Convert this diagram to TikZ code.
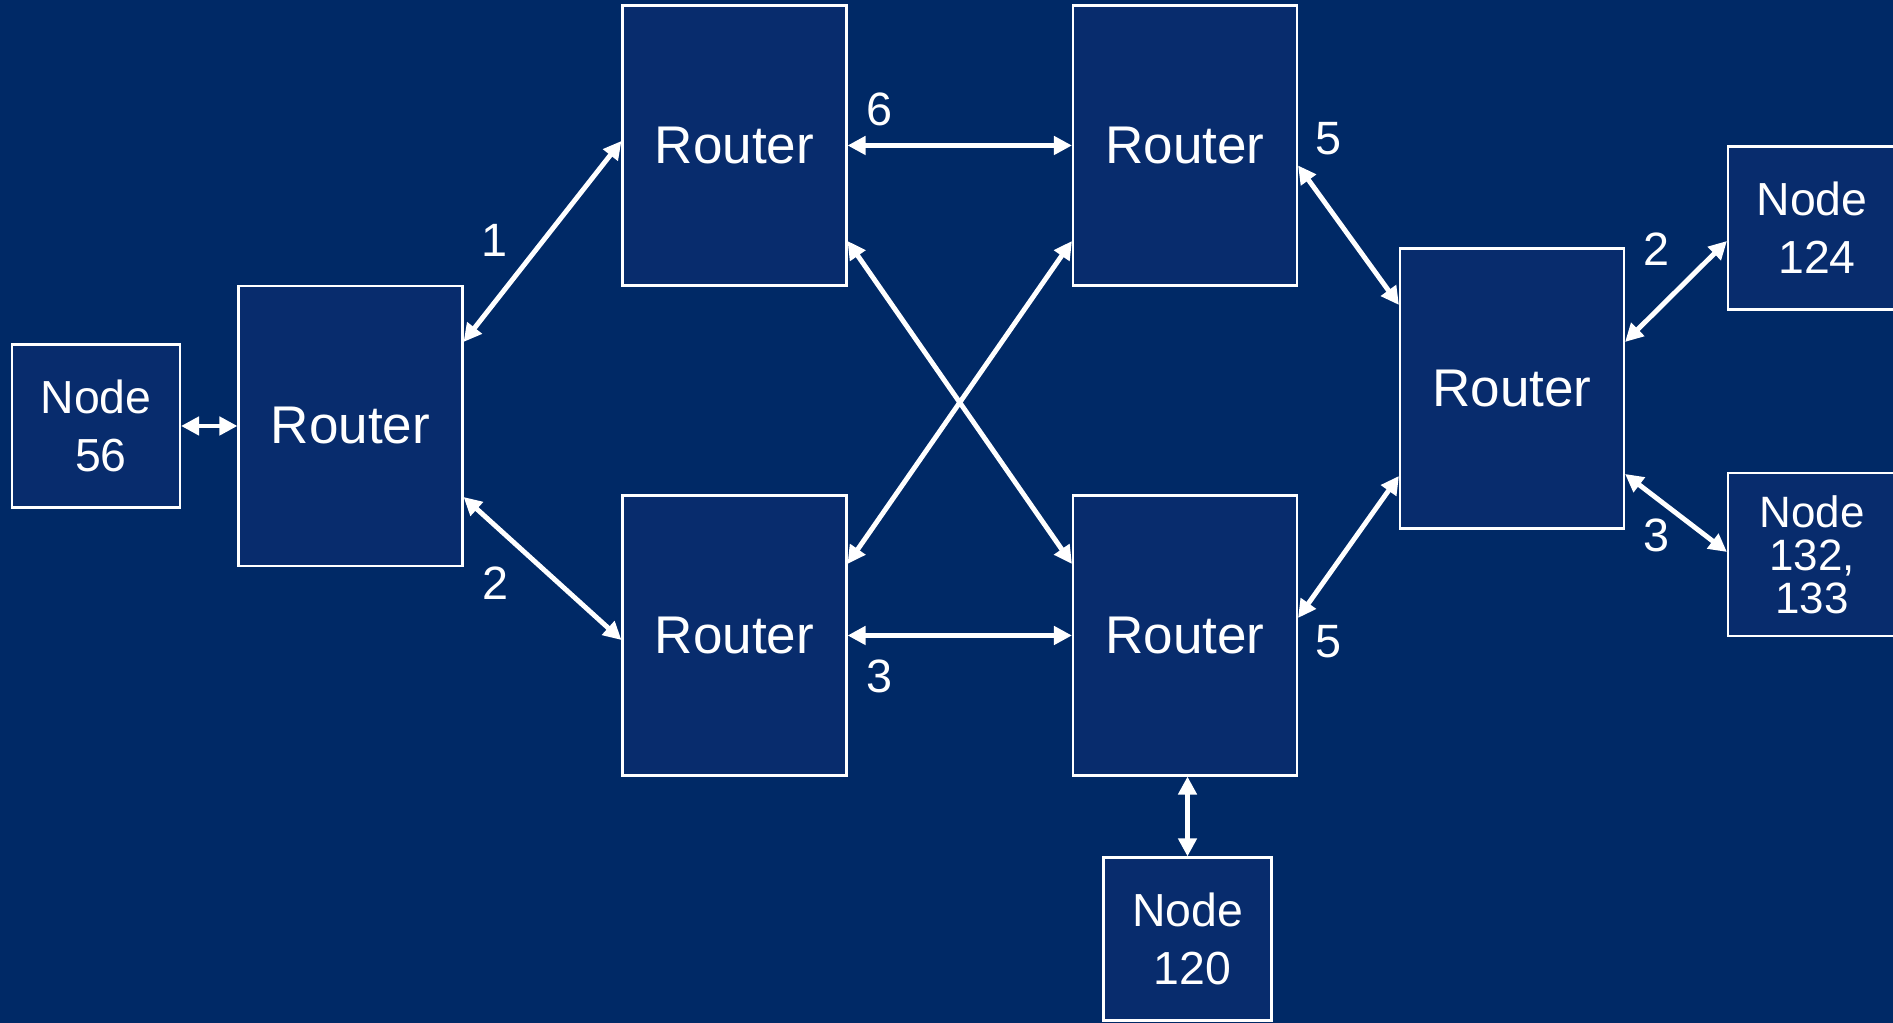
\documentclass[tikz,border=0pt]{standalone}
\usepackage{fontspec}
\setmainfont{Liberation Sans}
\usepackage{xcolor}
\usetikzlibrary{arrows.meta, positioning}
\definecolor{slidebg}{HTML}{002966}
\definecolor{boxbg}{HTML}{082C6D}

\begin{document}
\begin{tikzpicture}[
    router/.style={draw=white, line width=0.6pt, fill=boxbg, text=white, minimum width=2.24cm, minimum height=2.8cm, inner sep=0pt, font=\fontsize{15.1}{18}\selectfont},
    host/.style={draw=white, line width=0.6pt, fill=boxbg, text=white, minimum width=1.68cm, minimum height=1.63cm, inner sep=0pt, align=center, font=\fontsize{13.2}{16.5}\selectfont},
    hop/.style={text=white, inner sep=0pt, font=\fontsize{13.3}{16}\selectfont},
    link/.style={{Triangle[length=0.18cm, width=0.18cm]}-{Triangle[length=0.18cm, width=0.18cm]}, white, line width=1.4pt}
]
    \fill[slidebg] (0,0) rectangle (18.93,10.23);
    \useasboundingbox (0,0) rectangle (18.93,10.23);

    \node[host]   (n56)  at (0.96,5.97)    {Node\\\hspace{0.1cm}56};
    \node[router] (rL)   at (3.505,5.97)   {Router};
    \node[router] (rTL)  at (7.345,8.775)  {Router};
    \node[router] (rBL)  at (7.345,3.875)  {Router};
    \node[router] (rTR)  at (11.85,8.775)  {Router};
    \node[router] (rBR)  at (11.85,3.875)  {Router};
    \node[router] (rR)   at (15.12,6.345)  {Router};
    \node[host]   (n124) at (18.12,7.95)   {Node\\\hspace{0.1cm}124};
    \node[host, font=\fontsize{12.5}{12.2}\selectfont] (n132) at (18.12,4.685) {Node\\132,\\133};
    \node[host]   (n120) at (11.875,0.84)  {Node\\\hspace{0.1cm}120};

    \node[hop] (h1)  at (4.94,7.83)  {1};
    \node[hop] (h2)  at (4.95,4.40)  {2};
    \node[hop] (h6)  at (8.79,9.14)  {6};
    \node[hop] (h3)  at (8.79,3.47)  {3};
    \node[hop] (h5a) at (13.28,8.84) {5};
    \node[hop] (h5b) at (13.28,3.81) {5};
    \node[hop] (h2r) at (16.56,7.74) {2};
    \node[hop] (h3r) at (16.56,4.88) {3};

    \draw[link] (n56.east) -- (rL.west);
    \draw[link] ([yshift=0.84cm]rL.east) -- ([yshift=0.045cm]rTL.west);
    \draw[link] ([yshift=-0.71cm]rL.east) -- ([yshift=-0.045cm]rBL.west);
    \draw[link] (rTL.east) -- (rTR.west);
    \draw[link] (rBL.east) -- (rBR.west);
    \draw[link] ([yshift=-0.955cm]rTL.east) -- ([yshift=0.715cm]rBR.west);
    \draw[link] ([yshift=0.715cm]rBL.east) -- ([yshift=-0.955cm]rTR.west);
    \draw[link] ([yshift=-0.2cm]rTR.east) -- ([yshift=0.835cm]rR.west);
    \draw[link] ([yshift=0.175cm]rBR.east) -- ([yshift=-0.875cm]rR.west);
    \draw[link] ([yshift=0.465cm]rR.east) -- ([yshift=-0.13cm]n124.west);
    \draw[link] ([yshift=-0.855cm]rR.east) -- ([yshift=0.025cm]n132.west);
    \draw[link] (n120.north |- rBR.south) -- (n120.north);
\end{tikzpicture}
\end{document}
